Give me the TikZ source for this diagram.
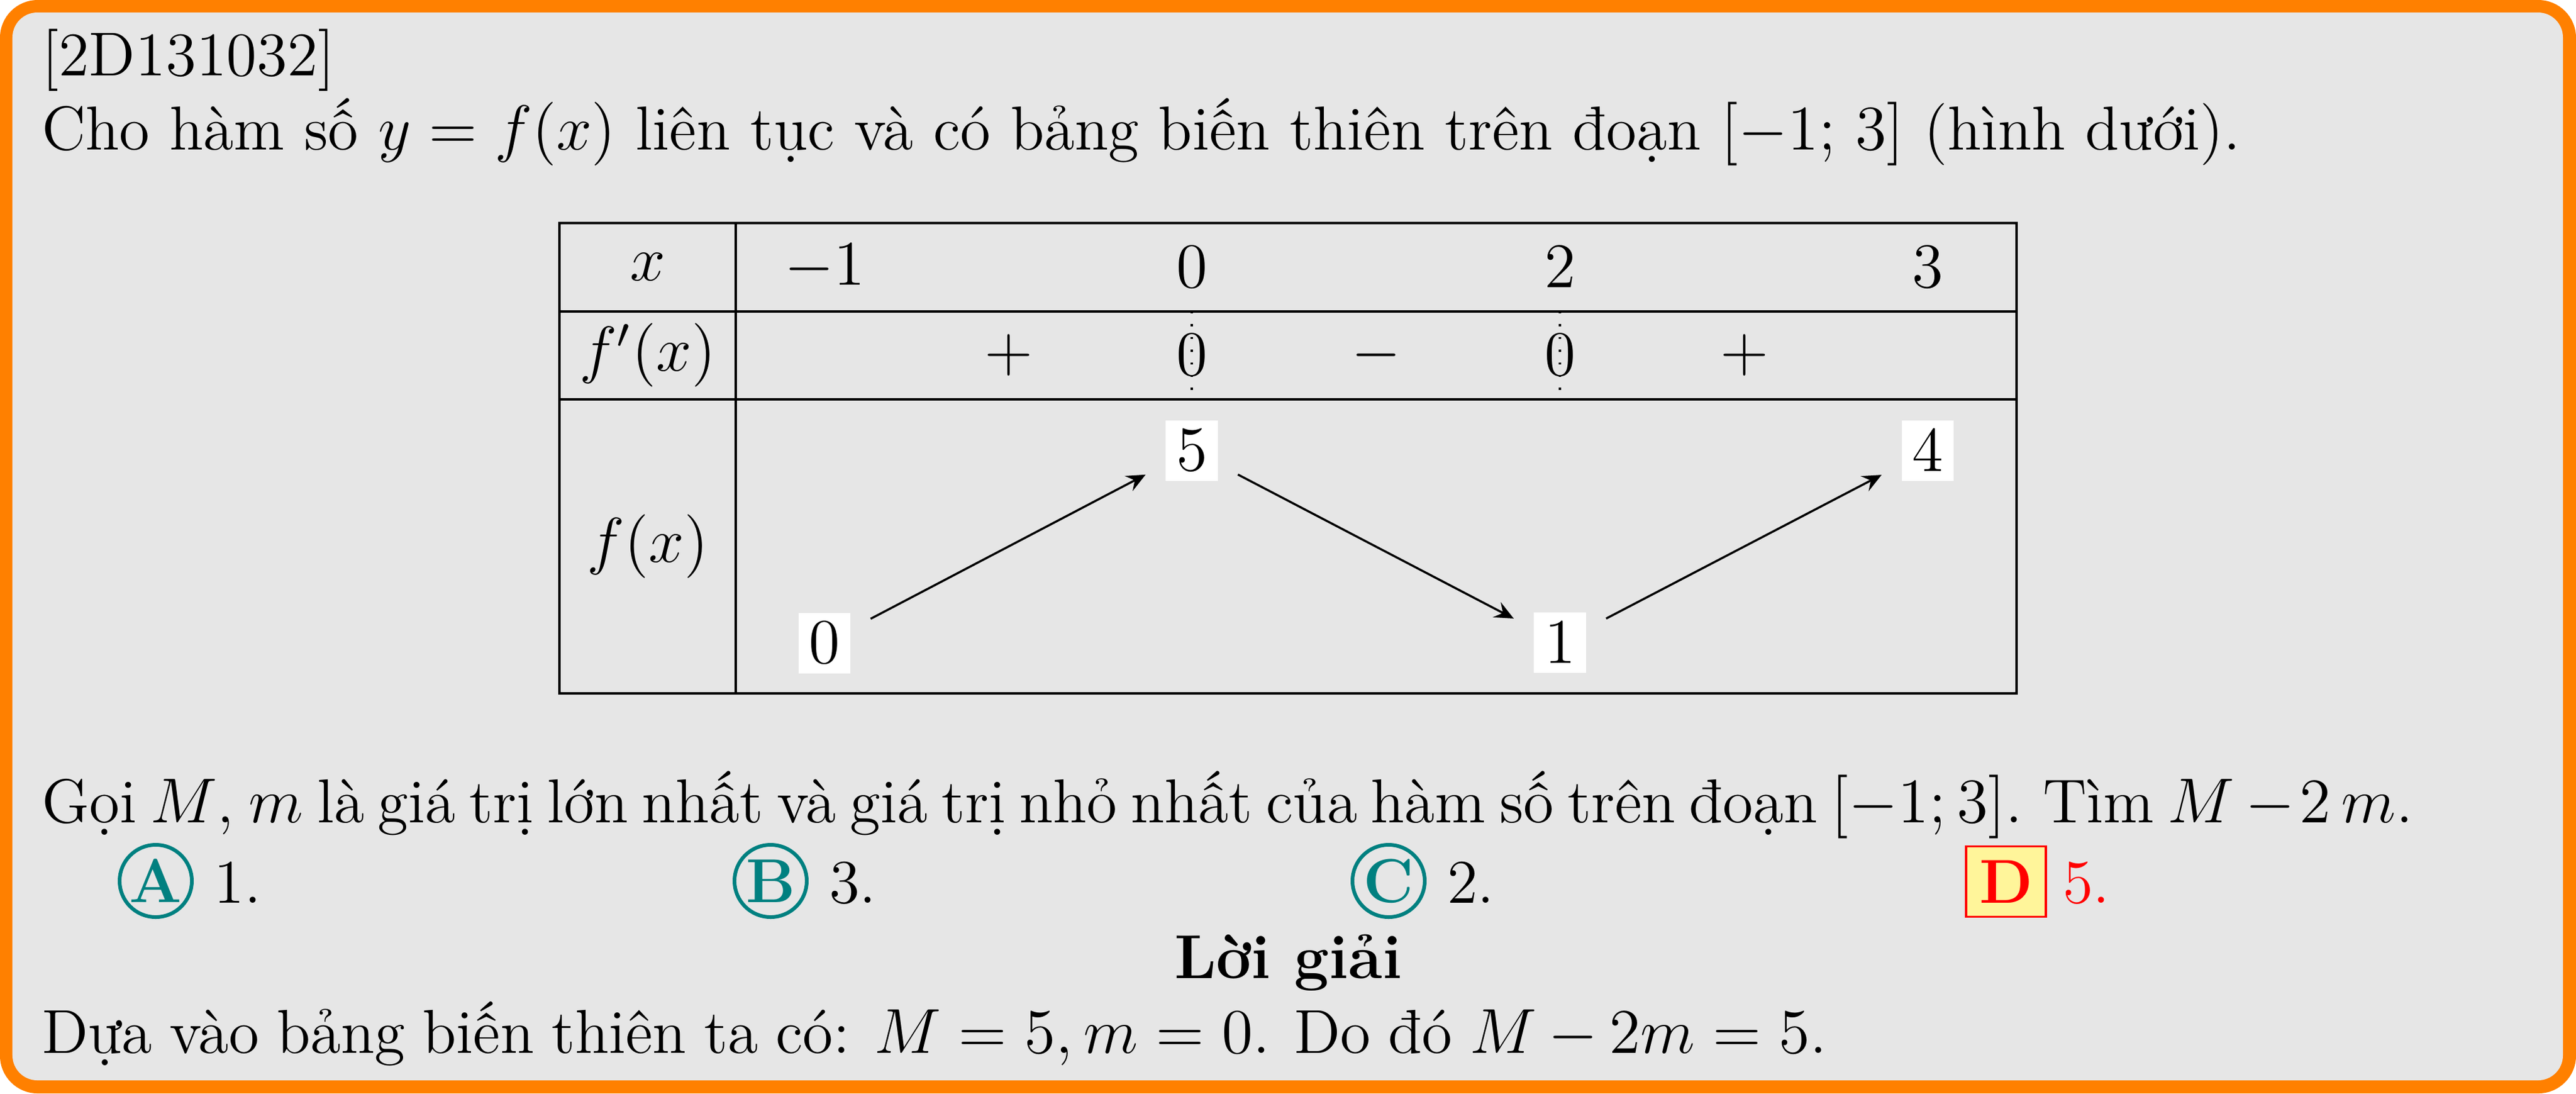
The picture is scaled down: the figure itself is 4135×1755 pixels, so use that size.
\documentclass[tikz,border=0pt]{standalone}
\usetikzlibrary{arrows.meta}
\definecolor{frameorange}{HTML}{FF8000}
\definecolor{boxgray}{HTML}{E6E6E6}
\definecolor{choiceteal}{HTML}{008080}
\definecolor{keyyellow}{HTML}{FFF59A}
\newcommand\docfont{\fontsize{11.72}{14.2}\selectfont}
\newcommand\fitline[2]{\hbox to #1{\spaceskip=.326em plus .3em minus .25em\xspaceskip=.435em plus .3em minus .25em #2}}
\begin{document}
\begin{tikzpicture}[x=0.117647pt, y=-0.117647pt,
  every node/.style={font=\docfont},
  txt/.style={anchor=base west, inner sep=0pt, outer sep=0pt},
  tcell/.style={inner sep=0pt},
  tabline/.style={line width=0.5pt},
  dotline/.style={line width=0.4pt, dotted},
  valbox/.style={fill=white, inner sep=0pt, minimum width=9.77pt, minimum height=11.41pt},
  varrow/.style={-{Stealth[length=3.6pt,width=3.2pt,inset=1.3pt]}, line width=0.4pt, shorten <=4.1pt, shorten >=4.1pt},
  choicecirc/.style={circle, draw=choiceteal, line width=0.7pt, text=choiceteal, minimum size=13.65pt, inner sep=0pt, font=\docfont\bfseries},
  keybox/.style={draw=red, fill=keyyellow, line width=0.45pt, text=red, minimum width=15.06pt, minimum height=13.29pt, inner sep=0pt, font=\docfont\bfseries}
]
\useasboundingbox (0,0) rectangle (4135,1755);
% frame
\fill[frameorange, rounded corners=7.1pt] (0,0) rectangle (4135,1755);
\fill[boxgray, rounded corners=4.7pt] (20,20) rectangle (4114,1734);

% text
\node[txt] (id) at (67,121) {[2D131032]};
\node[txt] (l1) at (67,240) {\fitline{415.3pt}{Cho hàm số $y=f(x)$ liên tục và có bảng biến thiên trên đoạn $[-1;$ $3]$ (hình dưới).}};

% table
\draw[tabline] (898,358) rectangle (3237,1113);
\draw[tabline] (898,500) -- (3237,500);
\draw[tabline] (898,641) -- (3237,641);
\draw[tabline] (1181,358) -- (1181,1113);

\node[tcell] (hx) at (1040,429) {$x$};
\node[tcell] (hfp) at (1040,570) {$f'(x)$};
\node[tcell] (hf) at (1040,877) {$f(x)$};

\node[tcell] (xa) at (1324,429) {$-1$};
\node[tcell] (xb) at (1913,429) {$0$};
\node[tcell] (xc) at (2504,429) {$2$};
\node[tcell] (xd) at (3094,429) {$3$};

\node[tcell] (s1) at (1619,570) {$+$};
\node[tcell] (z1) at (1913,570) {$0$};
\node[tcell] (s2) at (2209,570) {$-$};
\node[tcell] (z2) at (2504,570) {$0$};
\node[tcell] (s3) at (2800,570) {$+$};

\coordinate (d1t) at (1913,500);
\coordinate (d1b) at (1913,641);
\coordinate (d2t) at (2504,500);
\coordinate (d2b) at (2504,641);
\draw[dotline] (d1t) -- (d1b);
\draw[dotline] (d2t) -- (d2b);

\node[valbox] (v0) at (1323.5,1032) {$0$};
\node[valbox] (v5) at (1913,723) {$5$};
\node[valbox] (v1) at (2504,1031.5) {$1$};
\node[valbox] (v4) at (3094.5,723.5) {$4$};
\draw[varrow] (v0) -- (v5);
\draw[varrow] (v5) -- (v1);
\draw[varrow] (v1) -- (v4);

% question
\node[txt] (l2) at (67,1320) {\fitline{447.8pt}{Gọi $M$, $m$ là giá trị lớn nhất và giá trị nhỏ nhất của hàm số trên đoạn $[-1;3]$. Tìm $M\,{-}\mskip1.5mu2\,m$.}};

% choices
\node[choicecirc] (ca) at (250,1414) {A};
\node[txt] (ta) at (344,1449) {1.};
\node[choicecirc] (cb) at (1237,1414) {B};
\node[txt] (tb) at (1331,1449) {3.};
\node[choicecirc] (cc) at (2229,1414) {C};
\node[txt] (tc) at (2323,1449) {2.};
\node[keybox] (cd) at (3220,1415) {D};
\node[txt, text=red] (td) at (3311,1449) {5.};

% solution
\node[inner sep=0pt, anchor=base, font=\docfont\bfseries] (sol) at (2068,1570) {Lời giải};
\node[txt] (l3) at (67,1690) {\fitline{337.1pt}{Dựa vào bảng biến thiên ta có: $M=5,m=0$. Do đó $M-2m=5$.}};
\end{tikzpicture}
\end{document}
